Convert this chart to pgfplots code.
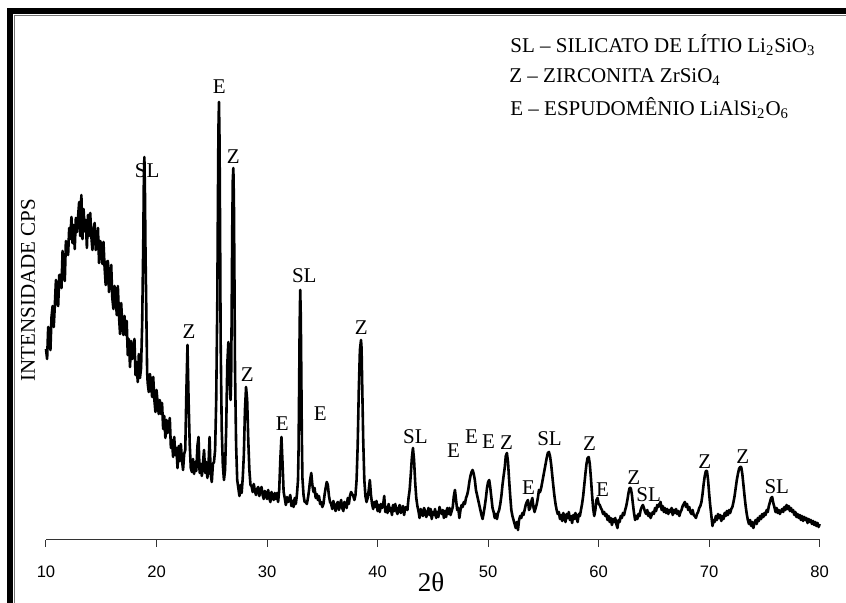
\documentclass[border=0pt]{standalone}
\usepackage{fontspec}
\setmainfont{Liberation Serif}
\newfontfamily\arialfont{Liberation Sans}
\usepackage{pgfplots}
\pgfplotsset{compat=1.18}

\pgfplotstableread{
x y
10.0 191
10.1 181
10.2 213
10.3 198
10.4 190
10.5 223
10.6 234
10.7 213
10.8 235
10.9 260
11.0 237
11.1 234
11.2 265
11.3 265
11.4 252
11.5 289
11.6 269
11.7 259
11.8 299
11.9 290
12.0 285
12.1 312
12.2 301
12.3 323
12.4 297
12.5 315
12.6 291
12.7 322
12.8 308
12.9 323
13.0 338
13.1 304
13.2 345
13.3 301
13.4 331
13.5 309
13.6 320
13.7 292
13.8 325
13.9 304
14.0 327
14.1 304
14.2 290
14.3 311
14.4 317
14.5 290
14.6 296
14.7 312
14.8 277
14.9 299
15.0 296
15.1 276
15.2 298
15.3 273
15.4 255
15.5 278
15.6 279
15.7 248
15.8 260
15.9 275
16.0 242
16.1 231
16.2 254
16.3 246
16.4 225
16.5 254
16.6 225
16.7 206
16.8 237
16.9 216
17.0 205
17.1 224
17.2 205
17.3 219
17.4 185
17.5 201
17.6 173
17.7 199
17.8 181
17.9 191
18.0 201
18.1 165
18.2 178
18.3 158
18.4 186
18.5 162
18.6 172
18.7 216
18.8 297
18.85 357
18.9 383
18.95 350
19.0 290
19.1 209
19.15 168
19.2 157
19.3 148
19.4 166
19.5 158
19.6 143
19.7 163
19.8 141
19.9 128
20.0 150
20.1 137
20.2 126
20.3 140
20.4 126
20.5 137
20.6 111
20.7 124
20.8 102
20.9 120
21.0 107
21.1 113
21.2 122
21.3 92
21.4 100
21.5 83
21.6 103
21.7 85
21.8 92
21.9 72
22.0 94
22.1 79
22.2 96
22.3 80
22.4 70
22.5 86
22.6 90
22.7 148
22.8 195
22.9 140
23.0 97
23.1 72
23.2 68
23.3 81
23.4 66
23.5 78
23.6 69
23.7 94
23.8 103
23.9 67
24.0 76
24.1 64
24.2 77
24.3 90
24.4 67
24.5 78
24.6 62
24.7 74
24.8 103
24.9 66
25.0 58
25.1 76
25.2 78
25.3 90
25.4 140
25.5 240
25.55 330
25.6 410
25.65 438
25.7 400
25.75 310
25.8 200
25.9 110
26.0 75
26.1 60
26.2 70
26.3 110
26.4 175
26.5 198
26.55 190
26.6 160
26.7 140
26.75 160
26.8 230
26.85 310
26.9 360
26.95 372
27.0 340
27.05 260
27.1 170
27.2 95
27.3 60
27.4 52
27.5 44
27.6 55
27.7 47
27.8 62
27.9 85
28.0 130
28.1 153
28.2 140
28.3 100
28.4 70
28.5 55
28.6 54
28.7 48
28.8 56
28.9 49
29.0 45
29.1 51
29.2 53
29.3 44
29.4 49
29.5 53
29.6 45
29.7 41
29.8 49
29.9 46
30.0 41
30.1 50
30.2 42
30.3 38
30.4 48
30.5 43
30.6 40
30.7 47
30.8 41
30.9 47
31.0 38
31.1 50
31.2 80
31.3 103
31.4 77
31.5 48
31.6 42
31.7 35
31.8 43
31.9 38
32.0 41
32.1 45
32.2 34
32.3 39
32.4 33
32.5 42
32.6 36
32.7 45
32.8 60
32.85 90
32.9 150
32.95 215
33.0 250
33.05 225
33.1 165
33.15 100
33.2 62
33.3 45
33.4 38
33.5 38
33.6 36
33.7 42
33.8 50
33.9 60
34.0 67
34.1 55
34.2 48
34.3 52
34.4 42
34.5 46
34.6 40
34.7 44
34.8 36
34.9 38
35.0 33
35.1 36
35.2 45
35.3 52
35.4 58
35.5 55
35.6 44
35.7 38
35.8 36
35.9 31
36.0 39
36.1 33
36.2 29
36.3 36
36.4 38
36.5 30
36.6 35
36.7 40
36.8 32
36.9 29
37.0 38
37.1 36
37.2 32
37.3 42
37.4 36
37.5 44
37.6 48
37.7 46
37.8 44
37.9 40
38.0 45
38.1 60
38.2 95
38.3 150
38.4 190
38.5 200
38.55 192
38.6 160
38.7 100
38.8 60
38.9 44
39.0 38
39.1 42
39.2 50
39.3 60
39.4 45
39.5 36
39.6 31
39.7 38
39.8 33
39.9 39
40.0 29
40.1 35
40.2 28
40.3 36
40.4 32
40.5 35
40.6 44
40.7 28
40.8 33
40.9 27
41.0 36
41.1 29
41.2 32
41.3 25
41.4 35
41.5 29
41.6 36
41.7 29
41.8 26
41.9 32
42.0 35
42.1 27
42.2 30
42.3 34
42.4 25
42.5 32
42.6 33
42.7 30
42.8 42
42.9 50
43.0 65
43.1 82
43.2 92
43.3 80
43.4 58
43.5 42
43.6 34
43.7 29
43.8 22
43.9 31
44.0 27
44.1 24
44.2 32
44.3 29
44.4 23
44.5 26
44.6 32
44.7 25
44.8 31
44.9 21
45.0 28
45.1 25
45.2 31
45.3 22
45.4 28
45.5 23
45.6 33
45.7 29
45.8 26
45.9 30
46.0 22
46.1 29
46.2 23
46.3 32
46.4 26
46.5 32
46.6 25
46.7 29
46.8 33
46.9 44
47.0 50
47.1 40
47.2 30
47.3 32
47.4 22
47.5 30
47.6 35
47.7 33
47.8 38
47.9 36
48.0 42
48.1 45
48.2 50
48.3 58
48.4 64
48.5 68
48.6 70
48.7 66
48.8 60
48.9 50
49.0 45
49.1 40
49.2 35
49.3 30
49.4 25
49.5 21
49.6 27
49.7 34
49.8 42
49.9 52
50.0 58
50.1 60
50.2 52
50.3 42
50.4 32
50.5 28
50.6 22
50.7 26
50.8 21
50.9 27
51.0 30
51.1 36
51.2 44
51.3 55
51.4 64
51.5 72
51.6 84
51.7 87
51.8 78
51.9 60
52.0 44
52.1 30
52.2 24
52.3 20
52.4 16
52.5 12
52.6 18
52.7 10
52.8 20
52.9 24
53.0 22
53.1 27
53.2 25
53.3 30
53.4 35
53.5 38
53.6 40
53.7 30
53.8 32
53.9 38
54.0 42
54.1 33
54.2 28
54.3 32
54.4 36
54.5 42
54.6 50
54.7 48
54.8 52
54.9 58
55.0 64
55.1 70
55.2 76
55.3 82
55.4 87
55.5 88
55.6 84
55.7 76
55.8 65
55.9 54
56.0 44
56.1 36
56.2 30
56.3 26
56.4 28
56.5 21
56.6 25
56.7 19
56.8 27
56.9 23
57.0 18
57.1 26
57.2 22
57.3 28
57.4 20
57.5 24
57.6 17
57.7 25
57.8 21
57.9 27
58.0 22
58.1 18
58.2 26
58.3 24
58.4 30
58.5 36
58.6 44
58.7 55
58.8 66
58.9 76
59.0 82
59.1 83
59.2 76
59.3 62
59.4 46
59.5 32
59.6 24
59.7 30
59.8 40
59.9 42
60.0 36
60.1 35
60.2 32
60.3 30
60.4 26
60.5 28
60.6 24
60.7 26
60.8 20
60.9 24
61.0 18
61.1 22
61.2 15
61.3 21
61.4 18
61.5 22
61.6 16
61.7 12
61.8 20
61.9 18
62.0 24
62.1 22
62.2 27
62.3 25
62.4 30
62.5 34
62.6 40
62.7 47
62.8 52
62.9 52
63.0 46
63.1 36
63.2 27
63.3 20
63.4 24
63.5 21
63.6 26
63.7 24
63.8 30
63.9 33
64.0 35
64.1 32
64.2 28
64.3 26
64.4 30
64.5 24
64.6 27
64.7 22
64.8 25
64.9 28
65.0 26
65.1 32
65.2 29
65.3 35
65.4 33
65.5 36
65.6 38
65.7 30
65.8 34
65.9 28
66.0 32
66.1 27
66.2 31
66.3 26
66.4 30
66.5 28
66.6 32
66.7 25
66.8 30
66.9 27
67.0 31
67.1 26
67.2 29
67.3 24
67.4 28
67.5 30
67.6 34
67.7 36
67.8 38
67.9 33
68.0 36
68.1 30
68.2 33
68.3 28
68.4 26
68.5 30
68.6 25
68.7 24
68.8 22
68.9 26
69.0 28
69.1 32
69.2 34
69.3 38
69.4 46
69.5 56
69.6 64
69.7 69
69.8 69
69.9 60
70.0 46
70.1 34
70.2 24
70.3 14
70.4 20
70.5 18
70.6 24
70.7 20
70.8 26
70.9 22
71.0 25
71.1 19
71.2 24
71.3 21
71.4 27
71.5 24
71.6 29
71.7 25
71.8 30
71.9 27
72.0 31
72.1 33
72.2 38
72.3 44
72.4 52
72.5 60
72.6 66
72.7 71
72.8 73
72.9 73
73.0 66
73.1 55
73.2 44
73.3 34
73.4 26
73.5 20
73.6 16
73.7 20
73.8 14
73.9 18
74.0 12
74.1 17
74.2 20
74.3 16
74.4 22
74.5 19
74.6 24
74.7 21
74.8 26
74.9 23
75.0 27
75.1 25
75.2 30
75.3 28
75.4 34
75.5 38
75.6 42
75.7 43
75.8 37
75.9 33
76.0 28
76.1 32
76.2 27
76.3 30
76.4 26
76.5 29
76.6 31
76.7 28
76.8 33
76.9 30
77.0 35
77.1 31
77.2 34
77.3 29
77.4 32
77.5 28
77.6 30
77.7 25
77.8 28
77.9 23
78.0 26
78.1 22
78.2 25
78.3 20
78.4 24
78.5 19
78.6 23
78.7 20
78.8 22
78.9 17
79.0 21
79.1 18
79.2 20
79.3 16
79.4 19
79.5 15
79.6 18
79.7 14
79.8 17
79.9 13
80.0 16
}\xrd

\begin{document}
\begin{tikzpicture}[x=0.5pt,y=0.5pt,
  lbl/.style={font=\fontsize{10.5}{12}\selectfont, inner sep=0pt}]
\useasboundingbox (0,0) rectangle (846,603);
% moldura
\fill[black] (7,589) rectangle (846,594.5);
\fill[black] (7,0) rectangle (13,594.5);
\draw[black!55, line width=0.4pt] (14.6,0) -- (14.6,587.6) -- (846,587.6);

\begin{axis}[
    at={(23pt,31.5pt)}, anchor=south west,
    scale only axis, width=386.85pt, height=270pt,
    xmin=10, xmax=80, ymin=0, ymax=540,
    axis x line=bottom, axis y line=none,
    axis line style={-, black!80, line width=0.5pt},
    xtick={10,20,...,80}, ytick=\empty,
    tick align=outside, major tick length=3.5pt,
    tick style={black!80, line width=0.5pt},
    /pgf/number format/assume math mode=true,
    xticklabel style={font=\arialfont\fontsize{8.3}{10}\selectfont, yshift=-6pt},
    clip=false,
]
\addplot[black, line width=1.3pt, line join=round, no markers] table[x=x, y=y] {\xrd};

\node[lbl] at (axis cs:19.15,369) {SL};
\node[lbl] at (axis cs:25.67,453) {E};
\node[lbl] at (axis cs:26.94,383) {Z};
\node[lbl] at (axis cs:22.95,208) {Z};
\node[lbl] at (axis cs:28.2,165) {Z};
\node[lbl] at (axis cs:31.38,116) {E};
\node[lbl] at (axis cs:33.37,264) {SL};
\node[lbl] at (axis cs:34.82,126) {E};
\node[lbl] at (axis cs:38.53,212) {Z};
\node[lbl] at (axis cs:43.42,103) {SL};
\node[lbl] at (axis cs:46.87,89) {E};
\node[lbl] at (axis cs:48.5,103) {E};
\node[lbl] at (axis cs:50.04,98) {E};
\node[lbl] at (axis cs:51.67,97) {Z};
\node[lbl] at (axis cs:53.66,52) {E};
\node[lbl] at (axis cs:55.56,101) {SL};
\node[lbl] at (axis cs:59.18,96) {Z};
\node[lbl] at (axis cs:60.36,50) {E};
\node[lbl] at (axis cs:63.17,62) {Z};
\node[lbl] at (axis cs:64.53,45) {SL};
\node[lbl] at (axis cs:69.6,78) {Z};
\node[lbl] at (axis cs:73.04,83) {Z};
\node[lbl] at (axis cs:76.12,53) {SL};
\end{axis}

\node[lbl, anchor=west] at (510,558) {SL – SILICATO DE LÍTIO Li\textsubscript{2}SiO\textsubscript{3}};
\node[lbl, anchor=west] at (509,526) {Z – ZIRCONITA ZrSiO\textsubscript{4}};
\node[lbl, anchor=west] at (510,495) {E – ESPUDOMÊNIO LiAlSi\textsubscript{2}O\textsubscript{6}};
\node[lbl, rotate=90] at (28,313) {INTENSIDADE CPS};
\node[font=\fontsize{13.5}{15}\selectfont, inner sep=0pt] at (431,21) {2θ};
\end{tikzpicture}
\end{document}
